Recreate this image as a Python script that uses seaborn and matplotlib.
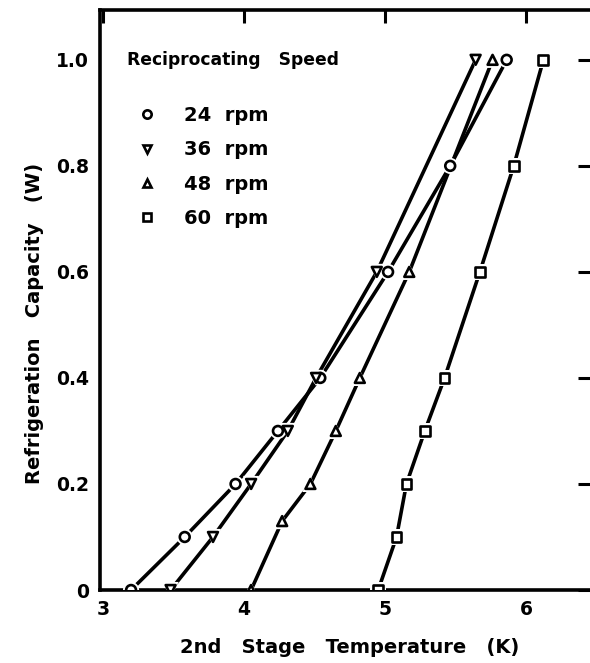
import matplotlib
matplotlib.use("Agg")
import matplotlib.pyplot as plt
from matplotlib.lines import Line2D
import seaborn as sns
import pandas as pd

# ---- data ----
speeds = ["24 rpm", "36 rpm", "48 rpm", "60 rpm"]
temp_24 = [3.20, 3.58, 3.94, 4.24, 4.54, 5.02, 5.46, 5.86]
cap_24 = [0.0, 0.1, 0.2, 0.3, 0.4, 0.6, 0.8, 1.0]
temp_36 = [3.48, 3.78, 4.05, 4.31, 4.51, 4.94, 5.64]
cap_36 = [0.0, 0.1, 0.2, 0.3, 0.4, 0.6, 1.0]
temp_48 = [4.05, 4.27, 4.47, 4.65, 4.82, 5.17, 5.76]
cap_48 = [0.0, 0.13, 0.2, 0.3, 0.4, 0.6, 1.0]
temp_60 = [4.95, 5.08, 5.15, 5.28, 5.42, 5.67, 5.91, 6.12]
cap_60 = [0.0, 0.1, 0.2, 0.3, 0.4, 0.6, 0.8, 1.0]
x_ticks = [3, 4, 5, 6]
y_ticks = [0, 0.2, 0.4, 0.6, 0.8, 1.0]
y_ticklabels = ["0", "0.2", "0.4", "0.6", "0.8", "1.0"]

frames = []
for name, t, c in zip(speeds, [temp_24, temp_36, temp_48, temp_60],
                      [cap_24, cap_36, cap_48, cap_60]):
    frames.append(pd.DataFrame({"temp": t, "cap": c, "speed": name}))
df = pd.concat(frames, ignore_index=True)

sns.set_theme(style="white")
plt.rcParams["font.family"] = ["DejaVu Sans"]
plt.rcParams["text.color"] = "black"
plt.rcParams["axes.labelcolor"] = "black"

fig = plt.figure(figsize=(5.9, 6.63), dpi=100)
ax = fig.add_axes([100 / 590, 73 / 663, 490 / 590, 580 / 663])

marker_map = {"24 rpm": "o", "36 rpm": "v", "48 rpm": "^", "60 rpm": "s"}

# curves
sns.lineplot(data=df, x="temp", y="cap", units="speed", estimator=None,
             color="black", linewidth=2.6, legend=False, ax=ax, sort=False,
             zorder=2)
# white halos around the markers (gap between line and marker)
sns.scatterplot(data=df, x="temp", y="cap", style="speed", markers=marker_map,
                s=135, color="white", edgecolor="white", linewidth=0,
                legend=False, ax=ax, zorder=3)
# open markers
sns.scatterplot(data=df, x="temp", y="cap", style="speed", markers=marker_map,
                s=50, color="white", edgecolor="black", linewidth=1.9,
                legend=False, ax=ax, zorder=4)

ax.set_xlim(2.98, 6.45)
ax.set_ylim(0, 1.094)
ax.set_xticks(x_ticks)
ax.set_xticklabels([str(v) for v in x_ticks])
ax.set_yticks(y_ticks)
ax.set_yticklabels(y_ticklabels)

for s in ["left", "bottom", "top"]:
    ax.spines[s].set_linewidth(2.6)
    ax.spines[s].set_color("black")
ax.spines["right"].set_visible(False)

ax.tick_params(axis="both", direction="in", length=9, width=2.2, colors="black",
               labelsize=13.5, top=True, right=True, labelcolor="black")
ax.tick_params(axis="x", pad=7)
ax.tick_params(axis="y", pad=8)
for lab in ax.get_xticklabels() + ax.get_yticklabels():
    lab.set_fontweight("bold")

ax.set_xlabel("2nd   Stage   Temperature   (K)", fontsize=14, fontweight="bold")
ax.set_ylabel("Refrigeration   Capacity   (W)", fontsize=14, fontweight="bold")
ax.xaxis.set_label_coords(0.51, -0.083)
ax.yaxis.set_label_coords(-0.115, 0.46)

ax.text(27 / 490, (590 - 60) / 580, "Reciprocating   Speed",
        transform=ax.transAxes, fontsize=12.3, fontweight="bold",
        ha="left", va="center", color="black")

handles = [Line2D([], [], linestyle="none", marker=marker_map[s], color="black",
                  markerfacecolor="white", markeredgewidth=1.9, markersize=6)
           for s in speeds]
labels = [s.replace(" ", "  ") for s in speeds]
leg = ax.legend(handles, labels, frameon=False,
                loc="upper left", bbox_to_anchor=(0.077, 0.834),
                prop={"size": 14, "weight": "bold"}, handlelength=1.0,
                handletextpad=1.4, labelspacing=0.78, borderpad=0.0,
                borderaxespad=0.0)

fig.savefig("out.png", dpi=100)
